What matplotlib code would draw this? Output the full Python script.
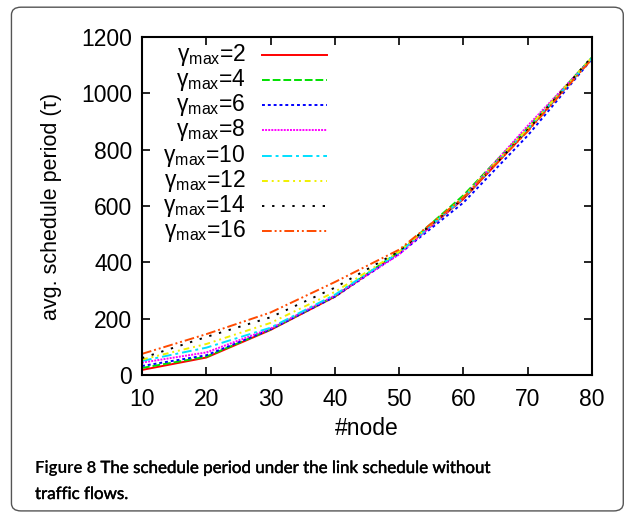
import matplotlib
matplotlib.use("Agg")
import matplotlib.pyplot as plt
import matplotlib.patheffects as pe
from matplotlib.patches import FancyBboxPatch

# --- data ---
nodes = [10, 20, 30, 40, 50, 60, 70, 80]
gammas = [2, 4, 6, 8, 10, 12, 14, 16]
g2 = [18, 62, 160, 278, 435, 625, 868, 1125]
g4 = [25, 65, 162, 280, 438, 638, 878, 1128]
g6 = [32, 70, 162, 278, 430, 612, 850, 1122]
g8 = [44, 80, 165, 282, 428, 630, 885, 1125]
g10 = [50, 97, 168, 285, 435, 628, 872, 1125]
g12 = [55, 110, 185, 295, 438, 632, 875, 1128]
g14 = [60, 135, 205, 310, 440, 628, 870, 1130]
g16 = [75, 145, 222, 330, 445, 630, 865, 1122]
series = [g2, g4, g6, g8, g10, g12, g14, g16]

colors = ["#ff0000", "#00e000", "#0000ff", "#ff00ff",
          "#00e0ff", "#f0f000", "#000000", "#ff4a00"]
styles = ["-", (0, (4, 1.5)), (0, (1.5, 1.5)), (0, (1, 0.6)),
          (0, (5, 2, 1.5, 2)), (0, (3, 2, 1, 2, 1, 2)), (0, (1.2, 4)),
          (0, (5, 1.5, 1, 1.5, 1, 1.5))]

plt.rcParams["font.family"] = ["Liberation Sans", "DejaVu Sans"]
plt.rcParams["mathtext.fontset"] = "custom"
plt.rcParams["mathtext.rm"] = "Liberation Sans"
plt.rcParams["mathtext.it"] = "Liberation Sans:italic"

FS = 16.5

fig = plt.figure(figsize=(6.36, 5.14), dpi=100)

# rounded frame around the figure
frame = FancyBboxPatch((0.018, 0.006), 0.962, 0.98,
                       boxstyle="round,pad=0,rounding_size=0.015",
                       transform=fig.transFigure, fill=False,
                       edgecolor="#555555", linewidth=1.0)
fig.patches.append(frame)

ax = fig.add_axes([142 / 636, 1 - 375 / 514, 450 / 636, 338 / 514])

for vals, c, ls in zip(series, colors, styles):
    ax.plot(nodes, vals, color=c, linestyle=ls, linewidth=1.4)

ax.set_xlim(10, 80)
ax.set_ylim(0, 1200)
ax.set_xticks(range(10, 81, 10))
ax.set_yticks(range(0, 1201, 200))
ax.tick_params(direction="in", length=6, width=1.2, labelsize=FS,
               top=True, right=True)
ax.tick_params(axis="x", pad=9)
ax.tick_params(axis="y", pad=7)
for s in ax.spines.values():
    s.set_linewidth(1.5)

ax.set_xlabel("#node", fontsize=FS, labelpad=5)
ax.set_ylabel("avg. schedule period (\u03c4)", fontsize=15.5, labelpad=14)

# right-aligned legend, gnuplot style
for i, (g, c, ls) in enumerate(zip(gammas, colors, styles)):
    y = 0.947 - i * 0.0745
    ax.text(0.231, y, "\u03b3$_{\\rm max}$=%d" % g, transform=ax.transAxes,
            ha="right", va="center", fontsize=FS)
    ax.plot([0.267, 0.411], [y, y], transform=ax.transAxes, color=c,
            linestyle=ls, linewidth=1.4)

# caption (body slightly thickened to look like the semibold original)
cap_fs = 12.2
heavy = [pe.withStroke(linewidth=0.3, foreground="black")]
t1 = fig.text(35 / 636, 1 - 473 / 514, "Figure 8", fontsize=cap_fs,
              fontweight="bold", family="Lato")
fig.canvas.draw()
bb = t1.get_window_extent()
fig.text((bb.x1 + 4) / 636, 1 - 473 / 514,
         "The schedule period under the link schedule without",
         fontsize=cap_fs, family="Lato", path_effects=heavy)
fig.text(35 / 636, 1 - 499 / 514, "traffic flows.", fontsize=cap_fs,
         family="Lato", path_effects=heavy)

plt.savefig("out.png", dpi=100)
